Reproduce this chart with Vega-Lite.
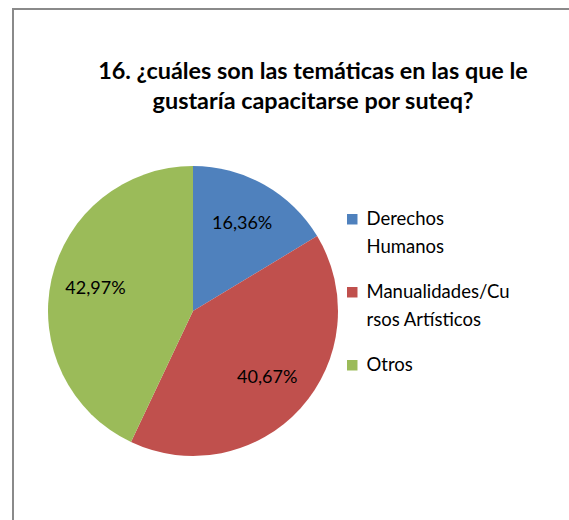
{
  "$schema": "https://vega.github.io/schema/vega-lite/v6.json",
  "autosize": "none",
  "width": 600,
  "height": 530,
  "padding": {"left": 13, "top": 9, "right": -44, "bottom": -19},
  "background": "white",
  "title": {
    "text": ["16. ¿cuáles son las temáticas en las que le", "gustaría capacitarse por suteq?"],
    "anchor": "middle",
    "font": "Lato",
    "fontSize": 23.4,
    "fontWeight": "bold",
    "color": "#000000",
    "lineHeight": 30,
    "offset": -105
  },
  "data": {
    "values": [
      {"tema": "Derechos Humanos", "porcentaje": 0.1636},
      {"tema": "Manualidades/Cursos Artísticos", "porcentaje": 0.4067},
      {"tema": "Otros", "porcentaje": 0.4297}
    ]
  },
  "encoding": {
    "theta": {"field": "porcentaje", "type": "quantitative", "stack": true},
    "order": {"field": "tema", "type": "nominal"},
    "x": {"value": 180},
    "y": {"value": 302}
  },
  "layer": [
    {
      "mark": {"type": "arc", "outerRadius": 145},
      "encoding": {
        "color": {
          "field": "tema",
          "type": "nominal",
          "scale": {
            "domain": ["Derechos Humanos", "Manualidades/Cursos Artísticos", "Otros"],
            "range": ["#4F81BD", "#C0504D", "#9BBB59"]
          },
          "legend": {
            "orient": "none",
            "legendX": 330,
            "legendY": 201,
            "title": null,
            "symbolType": "square",
            "symbolSize": 110,
            "symbolStrokeWidth": 0,
            "labelFont": "Lato",
            "labelFontSize": 18.5,
            "labelColor": "#000000",
            "labelLimit": 300,
            "labelOffset": 5,
            "rowPadding": 26,
            "labelExpr": "datum.label == 'Derechos Humanos' ? ['Derechos', 'Humanos'] : datum.label == 'Manualidades/Cursos Artísticos' ? ['Manualidades/Cu', 'rsos Artísticos'] : datum.label",
            "labelBaseline": "top",
            "encode": {"labels": {"update": {"lineHeight": {"value": 28}, "dy": {"value": -9}}}}
          }
        }
      }
    },
    {
      "mark": {"type": "text", "radius": 100, "font": "Lato", "fontSize": 18, "color": "#000000"},
      "encoding": {
        "text": {"field": "porcentaje", "type": "quantitative", "format": ".2%"}
      }
    }
  ],
  "config": {
    "view": {"stroke": "#8a8a8a", "strokeWidth": 2},
    "locale": {
      "number": {"decimal": ",", "thousands": ".", "grouping": [3], "currency": ["", " €"]}
    }
  }
}
